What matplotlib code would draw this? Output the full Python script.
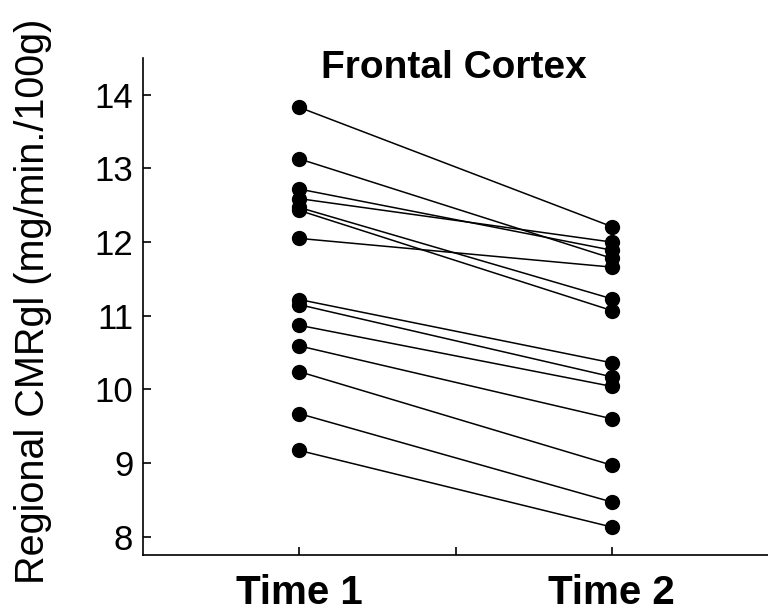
import matplotlib
matplotlib.use("Agg")
import matplotlib.pyplot as plt

plt.rcParams['font.family'] = ['Liberation Sans', 'DejaVu Sans']

# Regional CMRgl per subject at the two sessions
time1 = [13.83, 13.13, 12.72, 12.59, 12.47, 12.43, 12.05,
         11.22, 11.15, 10.87, 10.59, 10.24, 9.67, 9.17]
time2 = [12.21, 11.78, 11.89, 12.00, 11.23, 11.07, 11.66,
         10.36, 10.17, 10.04, 9.60, 8.97, 8.47, 8.13]
x_ticks = [1, 1.5, 2]
x_labels = ['Time 1', '', 'Time 2']
y_ticks = [8, 9, 10, 11, 12, 13, 14]

fig = plt.figure(figsize=(7.68, 6.15), dpi=100)
ax = fig.add_axes([143 / 768, 1 - 555 / 615, 1 - 143 / 768, (555 - 58) / 615])

for a, b in zip(time1, time2):
    ax.plot([1, 2], [a, b], color='black', linewidth=1.1,
            marker='o', markersize=10, markerfacecolor='black',
            markeredgecolor='black', zorder=3)

ax.set_xlim(0.5, 2.5)
ax.set_ylim(7.75, 14.5)
ax.set_xticks(x_ticks)
ax.set_xticklabels(x_labels, fontsize=29, fontweight='bold')
ax.set_yticks(y_ticks)
ax.set_yticklabels([str(v) for v in y_ticks], fontsize=25)
ax.tick_params(axis='both', direction='in', length=6, width=1.2, colors='black')
ax.tick_params(axis='x', pad=14)
ax.tick_params(axis='y', pad=7)
for s in ['top', 'right']:
    ax.spines[s].set_visible(False)
for s in ['left', 'bottom']:
    ax.spines[s].set_linewidth(1.2)

ax.set_ylabel('Regional CMRgl (mg/min./100g)', fontsize=28.5)
ax.yaxis.set_label_coords(-0.145, 0.511)

fig.text(454 / 768, 1 - 68 / 615, 'Frontal Cortex', ha='center', va='center',
         fontsize=28, fontweight='bold')

fig.savefig('out.png', dpi=100, facecolor='white')
